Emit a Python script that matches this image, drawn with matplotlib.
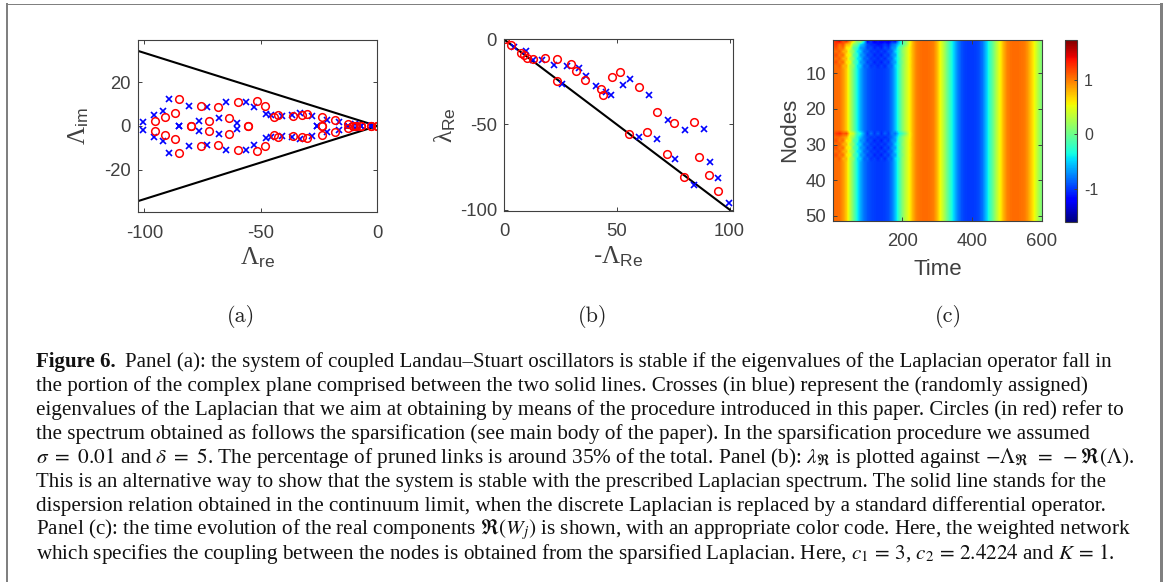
import numpy as np
import matplotlib
matplotlib.use('Agg')
import matplotlib.pyplot as plt
from matplotlib.lines import Line2D

plt.rcParams['font.family'] = ['Liberation Sans', 'DejaVu Sans']
plt.rcParams['mathtext.fontset'] = 'custom'
plt.rcParams['mathtext.rm'] = 'Liberation Serif'
plt.rcParams['mathtext.it'] = 'Liberation Serif:italic'
plt.rcParams['mathtext.sf'] = 'Liberation Sans'
plt.rcParams['mathtext.fallback'] = 'stix'
plt.rcParams['axes.unicode_minus'] = False

W, H = 1165, 582
DARK = '#404040'

### Panel (a) : spectrum, upper half plane + conjugates
a_blue_re = [-100.4, -95.7, -91.9, -89.4, -84.9, -80.6, -76.3, -73.1, -67.9, -64.7, -60.3, -56.1, -53.0,
             -47.9, -45.6, -40.9, -36.6, -33.1, -28.1, -25.7, -21.7, -16.3, -12.4, -9.6, -7.0, -2.4]
a_blue_im = [1.7, 4.9, 6.9, 12.5, 0, 9.4, 2.4, 8.9, 3.5, 11.0, 1.3, 11.2, 8.9,
             5.5, 5.0, 4.7, 5.2, 5.8, 4.6, 0, 2.7, 2.0, 0, 0.8, 0, 0]
a_red_re = [-95.6, -91.3, -86.9, -84.9, -80.0, -75.6, -72.4, -68.3, -63.4, -59.9, -55.3, -51.4, -48.0,
            -44.1, -42.6, -36.3, -32.1, -29.9, -23.6, -23.6, -18.0, -12.6, -10.3, -8.9, -7.0, -2.7, 0.0]
a_red_im = [2.4, 4.2, 6.1, 12.4, 0, 9.2, 2.1, 8.7, 3.5, 11.0, 0, 11.3, 9.0,
            4.3, 5.0, 4.6, 4.9, 5.6, 4.3, 0, 2.7, 0.9, 0, 0, 0, 0, 0]
a_wedge_re = [-102.7, 0]
a_wedge_im = [34.5, 0]

### Panel (b) : dispersion relation
b_blue_x = [4.6, 9.6, 13.0, 16.7, 22.0, 25.5, 28.0, 33.2, 36.4, 40.7, 45.0, 47.6, 52.8, 55.8, 59.9, 64.3,
            67.7, 72.6, 76.0, 80.2, 84.2, 88.8, 91.3, 95.0, 99.7]
b_blue_y = [-4.3, -6.7, -12.2, -12.2, -15.1, -26.0, -15.7, -17.1, -21.4, -27.5, -30.8, -32.4, -27.1, -23.4,
            -57.6, -32.6, -58.3, -47.2, -70.1, -53.2, -85.3, -52.8, -72.1, -81.5, -95.9]
b_red_x = [0.3, 3.1, 7.4, 8.7, 10.3, 12.8, 18.1, 23.6, 23.6, 29.9, 32.0, 36.1, 42.8, 44.1, 47.9, 51.2,
           55.3, 59.7, 63.3, 67.8, 72.1, 75.2, 79.6, 84.4, 86.4, 90.9, 95.0]
b_red_y = [0, -3.5, -8.3, -9.4, -11.2, -11.6, -11.2, -11.6, -24.6, -14.3, -18.3, -23.8, -28.9, -32.6,
           -22.2, -19.1, -55.4, -27.9, -54.2, -42.6, -67.6, -49.1, -80.7, -48.7, -69.2, -79.8, -89.0]
b_line_x = [0, 100]
b_line_y = [0, -100]

### Panel (c) : Re(W_j), one value every 10 time units
time = list(range(0, 610, 10))
base = [1.03, 1.05, 1.03, 0.90, 0.70, 0.35, 0.00, -0.35, -0.62, -0.80, -0.90, -0.95, -0.98, -1.00, -1.00,
        -0.98, -0.93, -0.80, -0.55, -0.20, 0.10, 0.35, 0.55, 0.80, 0.97, 1.03, 1.05, 1.05, 1.03, 0.97,
        0.78, 0.50, 0.25, -0.05, -0.30, -0.55, -0.78, -0.92, -0.98, -1.00, -1.00, -0.98, -0.93, -0.80,
        -0.55, -0.25, 0.00, 0.30, 0.55, 0.80, 0.97, 1.03, 1.05, 1.05, 1.03, 1.00, 0.88, 0.70, 0.50, 0.25, 0.05]
# the first 230 time units differ on a few nodes
early_node1 = [1.15, 1.30, 1.50, 1.15, 1.35, 0.90, 0.70, 0.10, 0.40, -0.30, -1.25, -1.00, -1.35, -1.10, -1.30,
               -1.20, -1.35, -1.10, -1.25, -0.60, -0.20, 0.10, 0.45]
early_node2 = [1.15, 1.25, 1.05, 1.15, 0.78, 0.72, 0.15, 0.02, -0.45, -0.65, -0.95, -1.05, -1.05, -1.15, -1.10,
               -1.00, -1.10, -0.85, -0.75, -0.45, -0.15, 0.10, 0.50]
early_top_a = [1.05, 1.18, 0.98, 1.05, 0.60, 0.55, -0.10, -0.22, -0.68, -0.72, -0.98, -0.92, -1.08, -0.98, -1.10,
               -0.92, -1.02, -0.74, -0.66, -0.16, 0.06, 0.35, 0.55]
early_top_b = [1.02, 1.04, 1.10, 0.82, 0.78, 0.28, 0.12, -0.42, -0.50, -0.86, -0.84, -1.02, -0.96, -1.06, -0.96,
               -1.06, -0.88, -0.86, -0.48, -0.26, 0.12, 0.33, 0.56]
early_node27 = [1.05, 1.22, 1.30, 1.12, 1.15, 0.55, 0.35, -0.20, -0.35, -0.70, -1.00, -0.80, -1.02, -0.85, -1.05,
                -0.85, -1.00, -0.75, -0.80, -0.40, -0.18, 0.10, 0.50]
early_node28 = [1.00, 1.08, 1.05, 0.95, 0.82, 0.40, 0.15, -0.30, -0.52, -0.78, -0.90, -1.00, -0.95, -1.05, -0.98,
                -1.05, -0.95, -0.85, -0.62, -0.25, 0.08, 0.32, 0.52]
nodes_a = [3, 5, 7, 29, 31, 33]
nodes_b = [4, 6, 8, 30, 32, 34]
clim = (-1.6, 1.73)

caption = [
    r'Panel (a): the system of coupled Landau–Stuart oscillators is stable if the eigenvalues of the Laplacian operator fall in',
    r'the portion of the complex plane comprised between the two solid lines. Crosses (in blue) represent the (randomly assigned)',
    r'eigenvalues of the Laplacian that we aim at obtaining by means of the procedure introduced in this paper. Circles (in red) refer to',
    r'the spectrum obtained as follows the sparsification (see main body of the paper). In the sparsification procedure we assumed',
    r'$\sigma\ =\ 0.01$ and $\delta\ =\ 5$. The percentage of pruned links is around 35% of the total. Panel (b): $\lambda_{\mathfrak{R}}$ is plotted against $-\Lambda_{\mathfrak{R}}\ =\ -\mathfrak{R}(\Lambda)$.',
    r'This is an alternative way to show that the system is stable with the prescribed Laplacian spectrum. The solid line stands for the',
    r'dispersion relation obtained in the continuum limit, when the discrete Laplacian is replaced by a standard differential operator.',
    r'Panel (c): the time evolution of the real components $\mathfrak{R}(W_j)$ is shown, with an appropriate color code. Here, the weighted network',
    r'which specifies the coupling between the nodes is obtained from the sparsified Laplacian. Here, $c_1\,=\,3$, $c_2\,=\,2.4224$ and $K\,=\,1$.',
]
caption_x = [125, 36, 36, 36, 36, 36, 36, 35.5, 35.5]
caption_size = [15.0, 15.25, 15.15, 15.25, 15.3, 15.05, 15.25, 15.25, 15.2]

### Figure
def px_axes(fig, left, right, top, bottom):
    return fig.add_axes([left / W, 1 - bottom / H, (right - left) / W, (bottom - top) / H])

def style(ax):
    ax.tick_params(direction='in', length=3, width=0.7, top=True, right=True, labelsize=13.3,
                   colors=DARK, pad=5)
    ax.tick_params(axis='x', pad=9)
    for s in ax.spines.values():
        s.set_color(DARK)
        s.set_linewidth(0.8)

fig = plt.figure(figsize=(W / 100, H / 100), dpi=100)

# panel a
ax1 = px_axes(fig, 138, 377, 40, 212)
ax1.plot(a_wedge_re, a_wedge_im, 'k', lw=1.5)
ax1.plot(a_wedge_re, [-v for v in a_wedge_im], 'k', lw=1.5)
ax1.plot(a_blue_re + a_blue_re, a_blue_im + [-v for v in a_blue_im], 'x', color='#0000ff', ms=4, mew=1.2, ls='none')
ax1.plot(a_red_re + a_red_re, a_red_im + [-v for v in a_red_im], 'o', mec='#ff0000', mfc='none', ms=5.5, mew=1.1, ls='none')
ax1.set_xlim(-102.7, 0)
ax1.set_ylim(-39.5, 39.5)
ax1.set_xticks([-100, -50, 0])
ax1.set_yticks([-20, 0, 20])
ax1.set_xlabel(r'$\mathrm{\Lambda}_{\mathsf{re}}$', fontsize=18, color=DARK, labelpad=3)
ax1.set_ylabel(r'$\mathrm{\Lambda}_{\mathsf{im}}$', fontsize=18, color=DARK, labelpad=9.5)
style(ax1)

# panel b
ax2 = px_axes(fig, 504, 733, 39, 211)
ax2.plot(b_line_x, b_line_y, 'k', lw=1.5)
ax2.plot(b_blue_x, b_blue_y, 'x', color='#0000ff', ms=4, mew=1.2, ls='none')
ax2.plot(b_red_x, b_red_y, 'o', mec='#ff0000', mfc='none', ms=5.5, mew=1.1, ls='none')
ax2.set_xlim(0, 101.5)
ax2.set_ylim(-100.8, 0.2)
ax2.set_xticks([0, 50, 100])
ax2.set_yticks([-100, -50, 0])
ax2.set_xlabel(r'-$\mathrm{\Lambda}_{\mathsf{Re}}$', fontsize=18, color=DARK, labelpad=3)
ax2.set_ylabel(r'$\mathrm{\lambda}_{\mathsf{Re}}$', fontsize=18, color=DARK, labelpad=1)
style(ax2)

# panel c
rows = []
for node in range(1, 52):
    if node == 1:
        early = early_node1
    elif node == 2:
        early = early_node2
    elif node in nodes_a:
        early = early_top_a
    elif node in nodes_b:
        early = early_top_b
    elif node == 27:
        early = early_node27
    elif node == 28:
        early = early_node28
    else:
        early = base[:len(early_node1)]
    rows.append(list(early) + base[len(early):])
field = np.array(rows)

ax3 = px_axes(fig, 833, 1042, 39.6, 221)
im = ax3.imshow(field, cmap='jet', vmin=clim[0], vmax=clim[1], aspect='auto', interpolation='bilinear',
                extent=[time[0] - 5, time[-1] + 5, 51.5, 0.5])
ax3.set_xlim(1, 600)
ax3.set_ylim(51.5, 0.5)
ax3.set_xticks([200, 400, 600])
ax3.set_yticks([10, 20, 30, 40, 50])
ax3.set_xlabel('Time', fontsize=16, color=DARK, labelpad=6)
ax3.set_ylabel('Nodes', fontsize=16, color=DARK, labelpad=4)
style(ax3)

cax = px_axes(fig, 1065, 1077, 40, 221.5)
cb = fig.colorbar(im, cax=cax)
cb.set_ticks([-1, 0, 1])
cax.tick_params(direction='in', length=2, width=0.7, labelsize=11.5, colors=DARK, pad=5)
cb.outline.set_edgecolor(DARK)
cb.outline.set_linewidth(0.8)

# panel letters
for x, s in zip([241, 593, 948], ['(a)', '(b)', '(c)']):
    fig.text(x / W, 1 - 316 / H, s, family='cmr10', fontsize=16, ha='center', va='center', color='#222222')

# caption
fig.text(36 / W, 1 - 367.5 / H, 'Figure 6.', family='Liberation Serif', weight='bold', fontsize=15, color='#111111', va='baseline')
for i, line in enumerate(caption):
    fig.text(caption_x[i] / W, 1 - (367.5 + i * 23.9) / H, line, family='Liberation Serif', fontsize=caption_size[i],
             color='#111111', va='baseline', math_fontfamily='stix')

# page frame
for xs, ys, lw in [([7, 7], [4, 582], 2), ([6, 1161], [4, 4], 1), ([1161, 1161], [4, 582], 3)]:
    fig.add_artist(Line2D([v / W for v in xs], [1 - v / H for v in ys], color='#808080', lw=lw * 0.72))

fig.savefig('out.png', dpi=100)
